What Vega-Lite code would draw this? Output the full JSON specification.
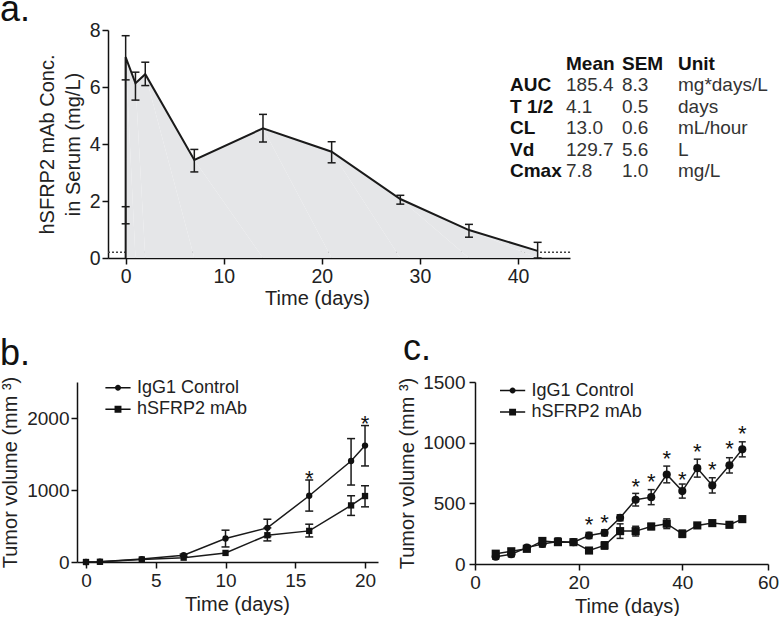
{
  "$schema": "https://vega.github.io/schema/vega-lite/v6.json",
  "background": "white",
  "padding": {"left": 0, "top": -8, "right": 0, "bottom": 0},
  "config": {
    "font": "Liberation Sans",
    "view": {"stroke": null},
    "axis": {
      "domainColor": "#111", "domainWidth": 1.5, "tickColor": "#111", "tickWidth": 1.5, "tickSize": 6,
      "labelFontSize": 19, "labelColor": "#222", "labelPadding": 3, "labelFlush": false, "labelOverlap": false,
      "titleFontSize": 20, "titleFontWeight": "normal", "titleColor": "#222", "grid": false
    },
    "title": {"fontSize": 36, "fontWeight": "normal", "anchor": "start", "frame": "group", "color": "#111", "offset": 0, "baseline": "alphabetic"},
    "legend": {
      "title": null, "orient": "none", "padding": 0, "labelFontSize": 18, "labelColor": "#222", "labelOffset": 10, "rowPadding": 3.5,
      "symbolSize": 36, "symbolStrokeColor": "#111", "symbolFillColor": "#111", "symbolStrokeWidth": 0, "symbolOpacity": 1
    }
  },
  "datasets": {
    "empty": [],
    "lloq": [{"lloq": 0.2}],
    "pk": [
      {"seq": 1, "day": 0, "conc": 0}, {"seq": 2, "day": 0, "conc": 7.05}, {"seq": 3, "day": 1, "conc": 6.13},
      {"seq": 4, "day": 2, "conc": 6.45}, {"seq": 5, "day": 7, "conc": 3.44}, {"seq": 6, "day": 14, "conc": 4.55},
      {"seq": 7, "day": 21, "conc": 3.73}, {"seq": 8, "day": 28, "conc": 2.07}, {"seq": 9, "day": 35, "conc": 0.98},
      {"seq": 10, "day": 42, "conc": 0.25}
    ],
    "pkerr": [
      {"day": 0, "lo": 6.25, "hi": 7.8}, {"day": 0, "lo": 1.2, "hi": 1.8}, {"day": 1, "lo": 5.54, "hi": 6.52},
      {"day": 2, "lo": 6.05, "hi": 6.87}, {"day": 7, "lo": 3.02, "hi": 3.81}, {"day": 14, "lo": 4.07, "hi": 5.04},
      {"day": 21, "lo": 3.34, "hi": 4.08}, {"day": 28, "lo": 1.89, "hi": 2.2}, {"day": 35, "lo": 0.73, "hi": 1.18},
      {"day": 42, "lo": 0, "hi": 0.55}
    ],
    "pktable": [
      {"r": "head", "c": "Mean", "t": "Mean"}, {"r": "head", "c": "SEM", "t": "SEM"}, {"r": "head", "c": "Unit", "t": "Unit"},
      {"r": "AUC", "c": "Parameter", "t": "AUC"}, {"r": "AUC", "c": "Mean", "t": "185.4"}, {"r": "AUC", "c": "SEM", "t": "8.3"}, {"r": "AUC", "c": "Unit", "t": "mg*days/L"},
      {"r": "T 1/2", "c": "Parameter", "t": "T 1/2"}, {"r": "T 1/2", "c": "Mean", "t": "4.1"}, {"r": "T 1/2", "c": "SEM", "t": "0.5"}, {"r": "T 1/2", "c": "Unit", "t": "days"},
      {"r": "CL", "c": "Parameter", "t": "CL"}, {"r": "CL", "c": "Mean", "t": "13.0"}, {"r": "CL", "c": "SEM", "t": "0.6"}, {"r": "CL", "c": "Unit", "t": "mL/hour"},
      {"r": "Vd", "c": "Parameter", "t": "Vd"}, {"r": "Vd", "c": "Mean", "t": "129.7"}, {"r": "Vd", "c": "SEM", "t": "5.6"}, {"r": "Vd", "c": "Unit", "t": "L"},
      {"r": "Cmax", "c": "Parameter", "t": "Cmax"}, {"r": "Cmax", "c": "Mean", "t": "7.8"}, {"r": "Cmax", "c": "SEM", "t": "1.0"}, {"r": "Cmax", "c": "Unit", "t": "mg/L"}
    ],
    "tumorB": [
      {"day": 0, "group": "IgG1 Control", "vol": 0}, {"day": 1, "group": "IgG1 Control", "vol": 5},
      {"day": 4, "group": "IgG1 Control", "vol": 40}, {"day": 7, "group": "IgG1 Control", "vol": 95, "lo": 80, "hi": 110},
      {"day": 10, "group": "IgG1 Control", "vol": 326, "lo": 209, "hi": 442}, {"day": 13, "group": "IgG1 Control", "vol": 474, "lo": 354, "hi": 594},
      {"day": 16, "group": "IgG1 Control", "vol": 920, "lo": 707, "hi": 1139}, {"day": 19, "group": "IgG1 Control", "vol": 1403, "lo": 1069, "hi": 1714},
      {"day": 20, "group": "IgG1 Control", "vol": 1617, "lo": 1334, "hi": 1895},
      {"day": 0, "group": "hSFRP2 mAb", "vol": 0}, {"day": 1, "group": "hSFRP2 mAb", "vol": 3},
      {"day": 4, "group": "hSFRP2 mAb", "vol": 35}, {"day": 7, "group": "hSFRP2 mAb", "vol": 60},
      {"day": 10, "group": "hSFRP2 mAb", "vol": 126}, {"day": 13, "group": "hSFRP2 mAb", "vol": 372, "lo": 293, "hi": 474},
      {"day": 16, "group": "hSFRP2 mAb", "vol": 432, "lo": 348, "hi": 525}, {"day": 19, "group": "hSFRP2 mAb", "vol": 786, "lo": 647, "hi": 920},
      {"day": 20, "group": "hSFRP2 mAb", "vol": 916, "lo": 766, "hi": 1059}
    ],
    "starsB": [{"day": 16, "star": 1222}, {"day": 20, "star": 1985}],
    "tumorC": [
      {"day": 4, "group": "IgG1 Control", "vol": 60, "lo": 40, "hi": 80},
      {"day": 7, "group": "IgG1 Control", "vol": 80, "lo": 60, "hi": 100},
      {"day": 10, "group": "IgG1 Control", "vol": 135, "lo": 120, "hi": 150},
      {"day": 13, "group": "IgG1 Control", "vol": 165, "lo": 140, "hi": 190},
      {"day": 16, "group": "IgG1 Control", "vol": 185, "lo": 155, "hi": 215},
      {"day": 19, "group": "IgG1 Control", "vol": 180, "lo": 160, "hi": 200},
      {"day": 22, "group": "IgG1 Control", "vol": 235, "lo": 210, "hi": 260},
      {"day": 25, "group": "IgG1 Control", "vol": 257, "lo": 232, "hi": 282},
      {"day": 28, "group": "IgG1 Control", "vol": 381, "lo": 356, "hi": 406},
      {"day": 31, "group": "IgG1 Control", "vol": 530, "lo": 478, "hi": 582},
      {"day": 34, "group": "IgG1 Control", "vol": 551, "lo": 489, "hi": 613},
      {"day": 37, "group": "IgG1 Control", "vol": 738, "lo": 669, "hi": 807},
      {"day": 40, "group": "IgG1 Control", "vol": 601, "lo": 543, "hi": 659},
      {"day": 43.5, "group": "IgG1 Control", "vol": 790, "lo": 716, "hi": 864},
      {"day": 47, "group": "IgG1 Control", "vol": 648, "lo": 585, "hi": 711},
      {"day": 51, "group": "IgG1 Control", "vol": 813, "lo": 750, "hi": 876},
      {"day": 54, "group": "IgG1 Control", "vol": 945, "lo": 883, "hi": 1007},
      {"day": 4, "group": "hSFRP2 mAb", "vol": 85, "lo": 65, "hi": 105},
      {"day": 7, "group": "hSFRP2 mAb", "vol": 105, "lo": 85, "hi": 125},
      {"day": 10, "group": "hSFRP2 mAb", "vol": 125, "lo": 110, "hi": 140},
      {"day": 13, "group": "hSFRP2 mAb", "vol": 190, "lo": 165, "hi": 215},
      {"day": 16, "group": "hSFRP2 mAb", "vol": 180, "lo": 155, "hi": 205},
      {"day": 19, "group": "hSFRP2 mAb", "vol": 180, "lo": 165, "hi": 195},
      {"day": 22, "group": "hSFRP2 mAb", "vol": 111, "lo": 96, "hi": 126},
      {"day": 25, "group": "hSFRP2 mAb", "vol": 153, "lo": 123, "hi": 183},
      {"day": 28, "group": "hSFRP2 mAb", "vol": 271, "lo": 211, "hi": 331},
      {"day": 31, "group": "hSFRP2 mAb", "vol": 271, "lo": 231, "hi": 311},
      {"day": 34, "group": "hSFRP2 mAb", "vol": 309, "lo": 284, "hi": 334},
      {"day": 37, "group": "hSFRP2 mAb", "vol": 332, "lo": 292, "hi": 372},
      {"day": 40, "group": "hSFRP2 mAb", "vol": 249, "lo": 219, "hi": 279},
      {"day": 43.5, "group": "hSFRP2 mAb", "vol": 318, "lo": 303, "hi": 333},
      {"day": 47, "group": "hSFRP2 mAb", "vol": 337, "lo": 322, "hi": 352},
      {"day": 51, "group": "hSFRP2 mAb", "vol": 323, "lo": 308, "hi": 338},
      {"day": 54, "group": "hSFRP2 mAb", "vol": 370, "lo": 350, "hi": 390}
    ],
    "starsC": [
      {"day": 22, "star": 365}, {"day": 25, "star": 381}, {"day": 31, "star": 675}, {"day": 34, "star": 716},
      {"day": 37, "star": 903}, {"day": 40, "star": 730}, {"day": 43.5, "star": 964}, {"day": 47, "star": 813},
      {"day": 51, "star": 986}, {"day": 54, "star": 1115}
    ]
  },
  "columns": 1,
  "align": "none",
  "spacing": 22,
  "resolve": {"scale": {"shape": "independent"}, "legend": {"shape": "independent"}},
  "concat": [
    {
      "bounds": "flush",
      "spacing": 0,
      "hconcat": [
        {
          "width": 31,
          "height": 10,
          "data": {"name": "empty"},
          "mark": {"type": "text"}
        },
        {
          "width": 462,
          "height": 228,
          "title": {"text": "a.", "dx": -108, "dy": 13},
          "layer": [
            {
              "data": {"name": "lloq"},
              "mark": {"type": "rule", "strokeDash": [2, 2], "color": "#444", "strokeWidth": 1.5},
              "encoding": {"y": {"field": "lloq", "type": "quantitative"}}
            },
            {
              "data": {"name": "pk"},
              "transform": [{"filter": "datum.seq > 1"}],
              "mark": {"type": "area", "color": "#e5e6e8", "opacity": 1},
              "encoding": {
                "x": {"field": "day", "type": "quantitative", "scale": {"domain": [-1.8, 45.3], "nice": false, "zero": false},
                      "axis": {"values": [0, 10, 20, 30, 40], "title": "Time (days)", "titleX": 209, "titlePadding": 3, "labelFontSize": 19.5}},
                "y": {"field": "conc", "type": "quantitative", "scale": {"domain": [0, 8], "nice": false},
                      "axis": {"values": [0, 2, 4, 6, 8], "title": ["hSFRP2 mAb Conc.", "in Serum (mg/L)"], "titleLineHeight": 26, "titlePadding": 6, "labelFontSize": 19.5, "labelPadding": 2}},
                "order": {"field": "seq", "type": "quantitative"}
              }
            },
            {
              "data": {"name": "pk"},
              "mark": {"type": "line", "color": "#1a1a1a", "strokeWidth": 2},
              "encoding": {
                "x": {"field": "day", "type": "quantitative"},
                "y": {"field": "conc", "type": "quantitative"},
                "order": {"field": "seq", "type": "quantitative"}
              }
            },
            {
              "data": {"name": "pkerr"},
              "mark": {"type": "rule", "color": "#1a1a1a", "strokeWidth": 1.5},
              "encoding": {
                "x": {"field": "day", "type": "quantitative"},
                "y": {"field": "lo", "type": "quantitative"},
                "y2": {"field": "hi"}
              }
            },
            {
              "data": {"name": "pkerr"},
              "mark": {"type": "tick", "orient": "horizontal", "size": 8, "thickness": 1.5, "color": "#1a1a1a", "opacity": 1},
              "encoding": {"x": {"field": "day", "type": "quantitative"}, "y": {"field": "lo", "type": "quantitative"}}
            },
            {
              "data": {"name": "pkerr"},
              "mark": {"type": "tick", "orient": "horizontal", "size": 8, "thickness": 1.5, "color": "#1a1a1a", "opacity": 1},
              "encoding": {"x": {"field": "day", "type": "quantitative"}, "y": {"field": "hi", "type": "quantitative"}}
            }
          ]
        },
        {
          "width": 168,
          "height": 150,
          "data": {"name": "pktable"},
          "encoding": {
            "x": {"field": "c", "type": "nominal", "scale": {"type": "point", "domain": ["Parameter", "Mean", "SEM", "Unit"], "padding": 0}, "axis": null},
            "y": {"field": "r", "type": "nominal", "scale": {"type": "point", "domain": ["head", "AUC", "T 1/2", "CL", "Vd", "Cmax"], "padding": 1, "align": 0.79}, "axis": null},
            "text": {"field": "t", "type": "nominal"}
          },
          "layer": [
            {
              "transform": [{"filter": "datum.r === 'head' || datum.c === 'Parameter'"}],
              "mark": {"type": "text", "align": "left", "baseline": "middle", "dx": -60, "fontSize": 19, "fontWeight": "bold", "color": "#111"}
            },
            {
              "transform": [{"filter": "datum.r !== 'head' && datum.c !== 'Parameter'"}],
              "mark": {"type": "text", "align": "left", "baseline": "middle", "dx": -60, "fontSize": 19, "color": "#333"}
            }
          ]
        }
      ]
    },
    {
      "bounds": "flush",
      "spacing": 97,
      "resolve": {"scale": {"shape": "independent"}, "legend": {"shape": "independent"}},
      "hconcat": [
        {
          "width": 301,
          "height": 180,
          "title": {"text": "b.", "dx": -77, "dy": 1},
          "data": {"name": "tumorB"},
          "resolve": {"scale": {"shape": "independent"}, "legend": {"shape": "independent"}},
          "layer": [
            {
              "mark": {"type": "line", "color": "#1a1a1a", "strokeWidth": 1.5},
              "encoding": {
                "x": {"field": "day", "type": "quantitative", "scale": {"domain": [-0.645, 20.93], "nice": false, "zero": false},
                      "axis": {"values": [0, 5, 10, 15, 20], "title": "Time (days)", "titleX": 160, "titlePadding": 4}},
                "y": {"field": "vol", "type": "quantitative", "scale": {"domain": [0, 2500], "nice": false},
                      "axis": {"values": [0, 500, 1000, 1500, 2000, 2500], "format": "d", "title": "Tumor volume (mm ³)", "titlePadding": 6, "labelPadding": 2}},
                "detail": {"field": "group", "type": "nominal"}
              }
            },
            {
              "transform": [{"filter": "isValid(datum.lo)"}],
              "mark": {"type": "rule", "color": "#1a1a1a", "strokeWidth": 1.5},
              "encoding": {"x": {"field": "day", "type": "quantitative"}, "y": {"field": "lo", "type": "quantitative"}, "y2": {"field": "hi"}}
            },
            {
              "transform": [{"filter": "isValid(datum.lo)"}],
              "mark": {"type": "tick", "orient": "horizontal", "size": 8, "thickness": 1.5, "color": "#1a1a1a", "opacity": 1},
              "encoding": {"x": {"field": "day", "type": "quantitative"}, "y": {"field": "lo", "type": "quantitative"}}
            },
            {
              "transform": [{"filter": "isValid(datum.hi)"}],
              "mark": {"type": "tick", "orient": "horizontal", "size": 8, "thickness": 1.5, "color": "#1a1a1a", "opacity": 1},
              "encoding": {"x": {"field": "day", "type": "quantitative"}, "y": {"field": "hi", "type": "quantitative"}}
            },
            {
              "mark": {"type": "point", "filled": true, "opacity": 1, "color": "#111", "size": 40},
              "encoding": {
                "x": {"field": "day", "type": "quantitative"},
                "y": {"field": "vol", "type": "quantitative"},
                "shape": {"field": "group", "type": "nominal", "scale": {"domain": ["IgG1 Control", "hSFRP2 mAb"], "range": ["circle", "square"]}, "legend": null}
              }
            },
            {
              "mark": {"type": "point", "filled": true, "opacity": 0, "color": "#111", "size": 40},
              "encoding": {
                "x": {"field": "day", "type": "quantitative"},
                "y": {"field": "vol", "type": "quantitative"},
                "shape": {
                  "field": "group", "type": "nominal",
                  "scale": {"domain": ["IgG1 Control", "hSFRP2 mAb"], "range": ["M-4.2,-0.25H4.2V0.25H-4.2ZM1,0A1,1,0,1,1,-1,0A1,1,0,1,1,1,0Z", "M-4.2,-0.25H4.2V0.25H-4.2ZM-1.15,-1.15H1.15V1.15H-1.15Z"]},
                  "legend": {"legendX": 32, "legendY": -3.3}
                }
              }
            },
            {
              "data": {"name": "starsB"},
              "mark": {"type": "text", "text": "*", "fontSize": 22, "baseline": "alphabetic", "dy": 12, "color": "#111"},
              "encoding": {"x": {"field": "day", "type": "quantitative"}, "y": {"field": "star", "type": "quantitative"}}
            }
          ]
        },
        {
          "width": 293,
          "height": 182,
          "title": {"text": "c.", "dx": -72, "dy": -1},
          "data": {"name": "tumorC"},
          "resolve": {"scale": {"shape": "independent"}, "legend": {"shape": "independent"}},
          "layer": [
            {
              "mark": {"type": "line", "color": "#1a1a1a", "strokeWidth": 1.5},
              "encoding": {
                "x": {"field": "day", "type": "quantitative", "scale": {"domain": [0, 40, 60], "range": [0, 207.3, 293], "nice": false, "zero": false},
                      "axis": {"values": [0, 20, 40, 60], "title": "Time (days)", "titleX": 152, "titlePadding": 4}},
                "y": {"field": "vol", "type": "quantitative", "scale": {"domain": [0, 1500], "nice": false},
                      "axis": {"values": [0, 500, 1000, 1500], "format": "d", "title": "Tumor volume (mm ³)", "titlePadding": 5, "labelPadding": 4}},
                "detail": {"field": "group", "type": "nominal"}
              }
            },
            {
              "mark": {"type": "rule", "color": "#222", "strokeWidth": 1.5},
              "encoding": {"x": {"field": "day", "type": "quantitative"}, "y": {"field": "lo", "type": "quantitative"}, "y2": {"field": "hi"}}
            },
            {
              "mark": {"type": "tick", "orient": "horizontal", "size": 7, "thickness": 1.5, "color": "#222", "opacity": 1},
              "encoding": {"x": {"field": "day", "type": "quantitative"}, "y": {"field": "lo", "type": "quantitative"}}
            },
            {
              "mark": {"type": "tick", "orient": "horizontal", "size": 7, "thickness": 1.5, "color": "#222", "opacity": 1},
              "encoding": {"x": {"field": "day", "type": "quantitative"}, "y": {"field": "hi", "type": "quantitative"}}
            },
            {
              "mark": {"type": "point", "filled": true, "opacity": 1, "color": "#111", "size": 66},
              "encoding": {
                "x": {"field": "day", "type": "quantitative"},
                "y": {"field": "vol", "type": "quantitative"},
                "shape": {"field": "group", "type": "nominal", "scale": {"domain": ["IgG1 Control", "hSFRP2 mAb"], "range": ["circle", "square"]}, "legend": null}
              }
            },
            {
              "mark": {"type": "point", "filled": true, "opacity": 0, "color": "#111", "size": 66},
              "encoding": {
                "x": {"field": "day", "type": "quantitative"},
                "y": {"field": "vol", "type": "quantitative"},
                "shape": {
                  "field": "group", "type": "nominal",
                  "scale": {"domain": ["IgG1 Control", "hSFRP2 mAb"], "range": ["M-4.2,-0.25H4.2V0.25H-4.2ZM1,0A1,1,0,1,1,-1,0A1,1,0,1,1,1,0Z", "M-4.2,-0.25H4.2V0.25H-4.2ZM-1.15,-1.15H1.15V1.15H-1.15Z"]},
                  "legend": {"legendX": 28.6, "legendY": -0.4}
                }
              }
            },
            {
              "data": {"name": "starsC"},
              "mark": {"type": "text", "text": "*", "fontSize": 22, "baseline": "alphabetic", "dy": 12, "color": "#111"},
              "encoding": {"x": {"field": "day", "type": "quantitative"}, "y": {"field": "star", "type": "quantitative"}}
            }
          ]
        }
      ]
    }
  ]
}
